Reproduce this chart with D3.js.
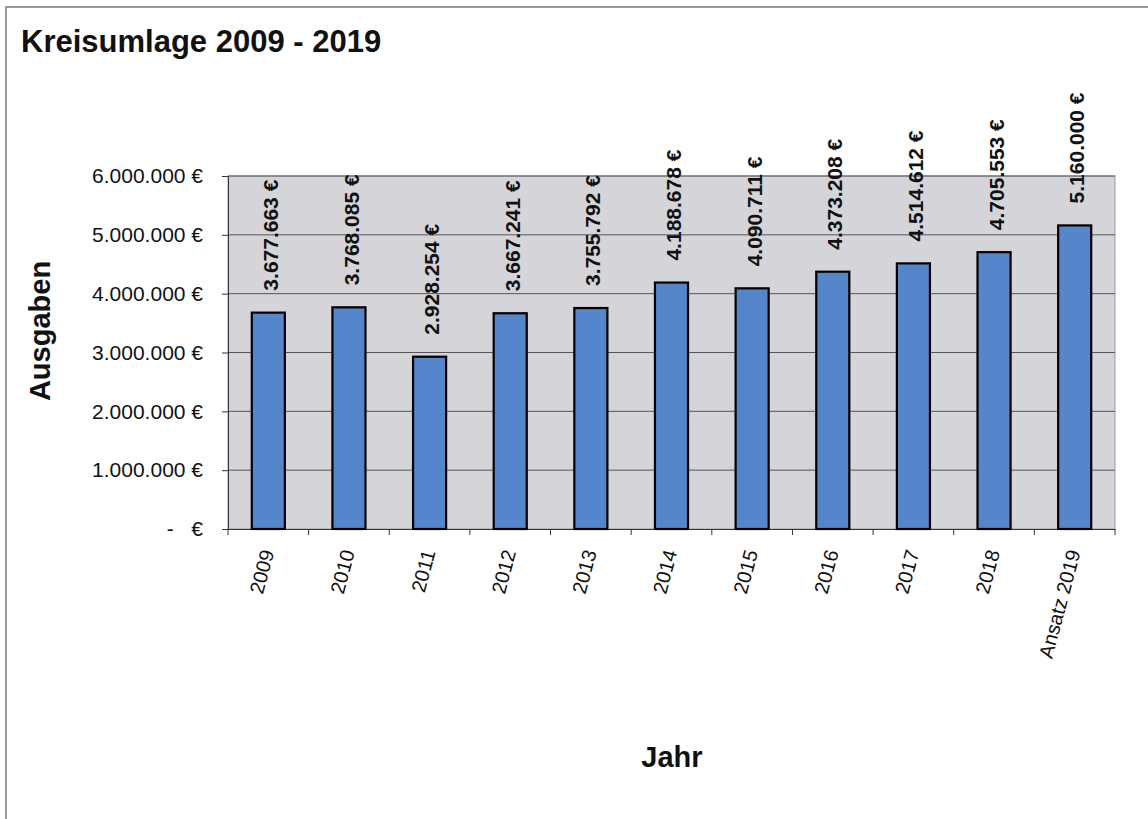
<!DOCTYPE html>
<html>
<head>
<meta charset="utf-8">
<script src="https://cdn.jsdelivr.net/npm/d3@7"></script>
<style>
  html, body { margin: 0; padding: 0; background: #fff; }
  svg { display: block; font-family: "Liberation Sans", Arial, sans-serif; }
</style>
</head>
<body>
<svg id="chart" width="1148" height="819"></svg>
<script>
const categories = ["2009", "2010", "2011", "2012", "2013", "2014", "2015", "2016", "2017", "2018", "Ansatz 2019"];
const values = [3677663, 3768085, 2928254, 3667241, 3755792, 4188678, 4090711, 4373208, 4514612, 4705553, 5160000];
const yTicks = [0, 1000000, 2000000, 3000000, 4000000, 5000000, 6000000];
const titleText = "Kreisumlage 2009 - 2019";
const yTitle = "Ausgaben";
const xTitle = "Jahr";

const de = d3.formatLocale({ decimal: ",", thousands: ".", grouping: [3], currency: ["", " €"] });
const fmt = de.format(",d");
const euro = v => v === 0 ? "-   €" : fmt(v) + " €";

const svg = d3.select("#chart");
const m = { left: 228, right: 1115, top: 176, bottom: 529 };

// outer frame
svg.append("rect").attr("x", 6).attr("y", 7).attr("width", 1200).attr("height", 900)
  .attr("fill", "#fff").attr("stroke", "#777").attr("stroke-width", 1.5);

// title
svg.append("text").attr("x", 21).attr("y", 52).attr("font-size", 31).attr("font-weight", "bold")
  .attr("fill", "#111").text(titleText);

const x = d3.scaleBand().domain(categories).range([m.left, m.right]).paddingInner(0.59).paddingOuter(0.295);
const xb = d3.scaleBand().domain(categories).range([m.left, m.right]);
const y = d3.scaleLinear().domain([0, 6000000]).range([m.bottom, m.top]);

// plot background
svg.append("rect").attr("x", m.left).attr("y", m.top).attr("width", m.right - m.left).attr("height", m.bottom - m.top)
  .attr("fill", "#d4d4d9").attr("stroke", "#9a9aa4").attr("stroke-width", 1);

// gridlines
svg.append("g").selectAll("line").data(yTicks.filter(t => t > 0)).join("line")
  .attr("x1", m.left).attr("x2", m.right).attr("y1", d => y(d)).attr("y2", d => y(d))
  .attr("stroke", "#55555c").attr("stroke-width", 1);

// y axis
const yAxis = svg.append("g").attr("transform", `translate(${m.left},0)`)
  .call(d3.axisLeft(y).tickValues(yTicks).tickFormat(euro).tickSize(6).tickPadding(19));
yAxis.select(".domain").attr("stroke", "#333");
yAxis.selectAll(".tick line").attr("stroke", "#333");
yAxis.selectAll(".tick text").attr("font-size", 21).attr("fill", "#111")
  .attr("font-family", "Liberation Sans, Arial, sans-serif").style("white-space", "pre");

// x axis
const xAxis = svg.append("g").attr("transform", `translate(0,${m.bottom})`)
  .call(d3.axisBottom(xb).tickSize(0).tickFormat(d => d));
xAxis.select(".domain").attr("stroke", "#333");
xAxis.selectAll(".tick text")
  .attr("font-size", 20).attr("fill", "#111").attr("font-family", "Liberation Sans, Arial, sans-serif")
  .attr("text-anchor", "end").attr("x", 0).attr("y", 0).attr("dy", 0)
  .attr("transform", "translate(6,23) rotate(-75)");
// boundary ticks
const bounds = categories.map(c => xb(c)).concat([m.right]);
svg.append("g").selectAll("line").data(bounds).join("line")
  .attr("x1", d => d).attr("x2", d => d).attr("y1", m.bottom).attr("y2", m.bottom + 6)
  .attr("stroke", "#333").attr("stroke-width", 1);

// bars
svg.append("g").selectAll("rect").data(values).join("rect")
  .attr("x", (d, i) => x(categories[i])).attr("width", x.bandwidth())
  .attr("y", d => y(d)).attr("height", d => y(0) - y(d))
  .attr("fill", "#5585ca").attr("stroke", "#000").attr("stroke-width", 2.2);

// value labels
svg.append("g").selectAll("text").data(values).join("text")
  .attr("transform", (d, i) => `translate(${x(categories[i]) + x.bandwidth() / 2 + 2},${y(d) - 22}) rotate(-90)`)
  .attr("dy", "0.36em").attr("font-size", 21).attr("font-weight", "bold").attr("fill", "#111")
  .text(d => fmt(d) + " €");

// axis titles
svg.append("text").attr("transform", "translate(50,331) rotate(-90)").attr("text-anchor", "middle")
  .attr("font-size", 29).attr("font-weight", "bold").attr("fill", "#111").text(yTitle);
svg.append("text").attr("x", 672).attr("y", 767).attr("text-anchor", "middle")
  .attr("font-size", 29).attr("font-weight", "bold").attr("fill", "#111").text(xTitle);
</script>
</body>
</html>
